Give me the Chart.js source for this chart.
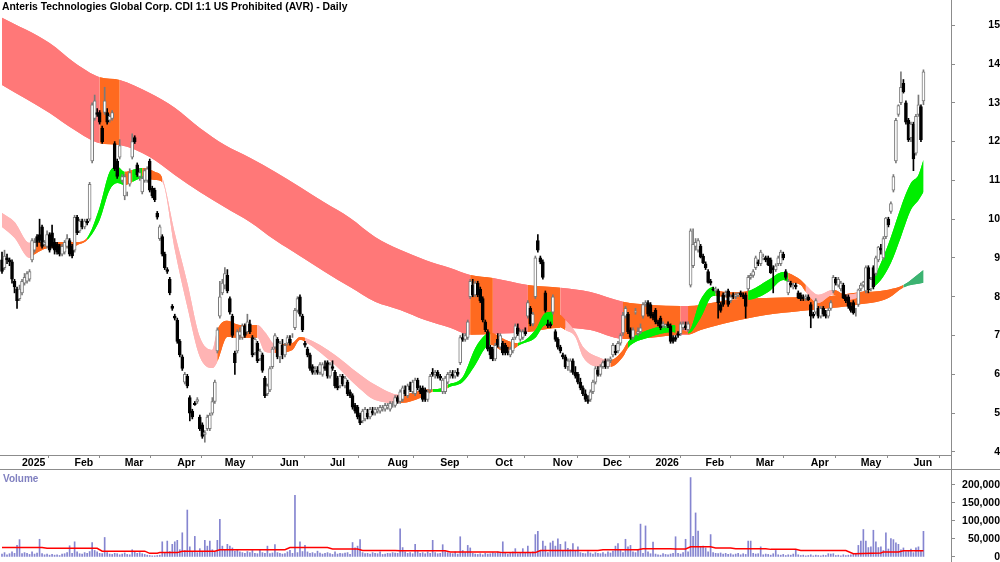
<!DOCTYPE html>
<html>
<head>
<meta charset="utf-8">
<script src="https://cdn.jsdelivr.net/npm/chart.js@4.4.1/dist/chart.umd.min.js"></script>
<style>
  body { margin: 0; background: #fff; }
  #wrap { position: relative; width: 1000px; height: 562px; overflow: hidden; font-family: "Liberation Sans", Arial, sans-serif; }
  #priceBox { position: absolute; left: 0; top: 0; width: 1000px; height: 470px; }
  #volBox { position: absolute; left: 0; top: 470px; width: 1000px; height: 92px; }
  .title { position: absolute; left: 2px; top: 1px; font-weight: bold; font-size: 10.4px; line-height: 12px; color: #000; white-space: nowrap; }
  .vlabel { position: absolute; left: 3px; top: 473px; font-weight: bold; font-size: 10px; line-height: 12px; color: #8080c0; }
  .sep { position: absolute; left: 0; top: 469px; width: 1000px; height: 1px; background: #8c8c8c; }
  .axisline { position: absolute; left: 951px; top: 0; width: 1px; height: 562px; background: #8c8c8c; }
</style>
</head>
<body>
<div id="wrap">
  <div id="priceBox"><canvas id="price" width="1000" height="470"></canvas></div>
  <div id="volBox"><canvas id="vol" width="1000" height="92"></canvas></div>
  <div class="sep"></div>
  <div class="axisline"></div>
  <div class="title">Anteris Technologies Global Corp. CDI 1:1 US Prohibited (AVR) - Daily</div>
  <div class="vlabel">Volume</div>
</div>
<script>
// daily candles [open, high, low, close]
const bars1 = [
  [8.95,9.15,8.6,8.65],[8.75,9.2,8.7,9.05],[9.0,9.1,8.85,8.95],[8.95,9.0,8.8,8.9],[8.9,8.95,8.35,8.45],
  [8.4,8.45,8.1,8.25],[8.2,8.25,7.7,7.9],[7.95,8.3,7.9,8.2],[8.1,8.45,8.05,8.4],[8.35,8.6,8.3,8.5],
  [8.4,8.65,8.35,8.6],[8.45,8.7,8.4,8.65],[8.95,9.5,8.9,9.45],[9.2,9.5,9.15,9.4],[9.55,9.6,9.3,9.4],
  [9.6,10.0,9.4,9.45],[9.8,9.85,9.25,9.3],[9.35,9.45,9.3,9.4],[9.3,9.7,9.25,9.6],[9.6,9.65,9.15,9.2],
  [9.65,9.85,9.25,9.3],[9.4,9.5,9.1,9.2],[9.35,9.4,9.1,9.15],[9.3,9.35,9.05,9.1],[9.1,9.35,9.05,9.3],
  [9.15,9.45,9.1,9.4],[9.3,9.6,9.25,9.5],[9.45,9.5,9.05,9.1],[9.3,9.35,9.0,9.05],[9.2,10.1,9.15,10.05],
  [10.05,10.1,9.6,9.65],[9.7,10.0,9.65,9.95],[9.95,10.0,9.75,9.8],[9.8,10.0,9.75,9.95],[9.95,10.0,9.85,9.9],
  [10.0,10.95,9.95,10.9],[11.5,13.0,11.45,12.95],[12.6,13.2,12.55,13.05],[12.75,12.85,12.65,12.7],[12.75,12.8,12.45,12.5],
  [12.35,12.4,11.95,12.0],[12.75,13.4,12.7,13.05],[12.75,12.85,12.45,12.5],[12.55,12.7,12.5,12.65],[12.6,12.8,12.55,12.75],
  [11.95,12.0,11.25,11.3],[11.5,11.55,11.05,11.1],[11.6,12.05,11.55,11.9],[11.0,11.15,10.95,11.1],[10.6,11.15,10.5,11.1]
];
const bars2 = [
  [10.65,10.7,10.6,10.65],[10.9,11.3,10.85,11.2],[11.6,12.2,11.55,12.0],[12.1,12.15,11.95,12.0],[11.4,11.45,11.1,11.15],
  [11.1,11.3,11.0,11.2],[10.7,11.1,10.65,11.05],[11.0,11.3,10.95,11.25],[11.0,11.35,10.95,11.3],[11.5,11.55,10.7,10.75],
  [10.8,10.85,10.55,10.6],[10.75,10.8,10.45,10.5],[10.15,10.2,10.0,10.05],[9.5,9.85,9.45,9.8],[9.55,9.6,9.05,9.1],
  [9.1,9.15,8.7,8.75],[8.7,8.75,8.6,8.65],[8.45,8.5,8.05,8.1],[7.75,7.8,7.65,7.7],[7.5,7.55,7.4,7.45],
  [7.4,7.45,6.8,6.85],[6.85,6.9,6.45,6.5],[6.45,6.5,6.1,6.15],[5.8,6.05,5.75,6.0],[5.95,6.0,5.65,5.7],
  [5.4,5.45,4.8,5.0],[5.05,5.1,4.85,4.9],[5.25,5.3,5.2,5.22],[5.3,5.4,5.25,5.35],[4.9,4.95,4.55,4.6],
  [4.7,4.75,4.35,4.4],[4.45,4.55,4.25,4.5],[4.6,4.95,4.55,4.9],[4.6,5.0,4.55,4.95],[5.0,5.4,4.95,5.3],
  [5.3,5.85,5.25,5.8],[6.6,7.2,6.55,7.15],[7.5,8.4,7.45,8.0],[8.1,8.45,8.05,8.35],[8.3,8.75,8.2,8.6],
  [8.55,8.7,8.1,8.15],[7.95,8.0,7.55,7.6],[7.5,7.55,6.95,7.0],[6.55,6.6,6.0,6.3],[6.6,7.15,6.55,7.1],
  [7.0,7.2,6.9,7.1],[6.95,7.3,6.9,7.25],[7.25,7.3,6.95,7.0],[7.1,7.55,7.05,7.35],[7.3,7.4,7.05,7.1]
];
const bars3 = [
  [6.95,7.0,6.45,6.5],[6.55,6.95,6.5,6.9],[6.8,6.85,6.3,6.35],[6.4,6.65,6.35,6.6],[6.5,6.55,6.05,6.1],
  [5.9,5.95,5.4,5.45],[5.5,5.75,5.45,5.7],[5.6,6.2,5.55,6.15],[6.2,6.7,6.15,6.65],[6.7,7.05,6.65,7.0],
  [6.9,6.95,6.4,6.45],[6.45,6.85,6.3,6.8],[6.75,6.9,6.4,6.5],[6.5,6.8,6.45,6.75],[6.8,7.0,6.75,6.95],
  [6.9,7.0,6.75,6.8],[7.0,7.05,6.95,7.0],[7.2,7.7,7.15,7.65],[7.65,8.0,7.6,7.95],[8.0,8.05,7.5,7.55],
  [7.5,7.55,7.1,7.15],[6.8,6.85,6.7,6.75],[6.65,6.7,6.45,6.5],[6.5,6.55,6.1,6.15],[6.2,6.25,6.0,6.05],
  [6.1,6.2,6.0,6.15],[6.1,6.2,6.0,6.05],[6.05,6.3,6.0,6.25],[6.0,6.3,5.95,6.25],[6.2,6.35,6.1,6.15],
  [6.3,6.35,5.9,5.95],[5.95,6.3,5.9,6.25],[6.2,6.35,6.1,6.15],[6.05,6.1,5.65,5.7],[5.9,5.95,5.6,5.65],
  [5.7,6.0,5.65,5.95],[5.95,6.0,5.7,5.75],[5.7,5.95,5.65,5.9],[5.8,5.85,5.45,5.5],[5.55,5.6,5.4,5.45],
  [5.45,5.5,5.1,5.15],[5.2,5.25,5.0,5.05],[5.15,5.2,4.85,4.9],[4.95,5.0,4.7,4.75],[4.8,5.1,4.75,5.05],
  [4.85,5.15,4.8,5.1],[5.0,5.1,4.85,4.9],[4.9,5.15,4.85,5.1],[5.05,5.15,4.95,5.0],[5.0,5.15,4.95,5.1]
];
const bars4 = [
  [5.05,5.15,5.0,5.1],[5.05,5.2,5.0,5.15],[5.1,5.2,5.05,5.15],[5.1,5.25,5.05,5.2],[5.15,5.25,5.1,5.2],
  [5.1,5.3,5.05,5.25],[5.2,5.3,5.15,5.2],[5.2,5.45,5.15,5.4],[5.4,5.45,5.25,5.3],[5.3,5.6,5.25,5.55],
  [5.35,5.7,5.3,5.65],[5.6,5.7,5.45,5.5],[5.45,5.75,5.4,5.7],[5.7,5.8,5.55,5.6],[5.55,5.85,5.5,5.8],
  [5.5,5.9,5.45,5.85],[5.85,5.9,5.6,5.65],[5.6,5.7,5.5,5.55],[5.65,5.7,5.3,5.35],[5.6,5.65,5.3,5.35],
  [5.35,5.6,5.3,5.55],[5.6,6.0,5.55,5.95],[6.05,6.15,5.95,6.0],[6.0,6.1,5.9,6.05],[6.05,6.1,5.9,5.95],
  [5.95,6.0,5.85,5.9],[5.55,5.9,5.5,5.85],[5.55,5.95,5.5,5.9],[5.8,6.05,5.75,6.0],[6.0,6.1,5.9,6.05],
  [6.0,6.1,5.9,5.95],[5.95,6.1,5.9,6.05],[6.05,6.15,5.95,6.0],[6.3,7.0,6.25,6.95],[6.95,7.05,6.85,6.9],
  [6.9,7.05,6.85,7.0],[6.95,7.4,6.9,7.35],[8.0,8.45,7.95,8.4],[8.3,8.45,8.0,8.05],[8.05,8.4,8.0,8.35],
  [8.35,8.4,8.0,8.05],[8.2,8.25,7.85,7.9],[7.95,8.0,7.35,7.4],[7.35,7.4,7.1,7.15],[7.1,7.15,6.6,6.65],
  [6.7,6.75,6.4,6.5],[6.65,6.7,6.35,6.4],[6.4,6.8,6.35,6.75],[6.9,7.05,6.7,6.75],[6.7,7.05,6.65,7.0]
];
const bars5 = [
  [6.8,6.85,6.5,6.55],[6.75,6.8,6.5,6.55],[6.6,6.7,6.5,6.55],[6.5,6.7,6.45,6.65],[6.6,6.95,6.55,6.9],
  [6.95,7.3,6.9,7.25],[7.2,7.3,7.0,7.05],[6.9,7.15,6.85,7.1],[6.95,7.15,6.9,7.1],[7.1,7.2,7.0,7.05],
  [7.5,7.9,7.45,7.85],[7.7,7.75,7.25,7.3],[7.3,7.6,7.25,7.55],[8.0,9.05,7.95,9.0],[9.45,9.6,9.15,9.2],
  [9.0,9.05,8.85,8.9],[8.9,8.95,8.45,8.5],[8.1,8.15,7.6,7.65],[7.3,7.4,7.2,7.25],[7.3,7.35,7.2,7.25],
  [7.6,8.05,7.55,8.0],[7.1,7.15,6.85,6.9],[6.9,6.95,6.65,6.7],[6.7,6.75,6.55,6.6],[6.5,6.55,6.4,6.45],
  [6.45,6.5,6.15,6.2],[6.2,6.4,6.1,6.35],[6.1,6.4,6.05,6.35],[6.35,6.4,6.0,6.05],[6.05,6.2,5.9,5.95],
  [6.0,6.05,5.75,5.8],[5.8,5.9,5.6,5.65],[5.65,5.7,5.45,5.5],[5.5,5.6,5.3,5.35],[5.35,5.45,5.25,5.3],
  [5.35,5.6,5.3,5.55],[5.55,5.85,5.5,5.8],[5.8,6.2,5.75,6.15],[6.1,6.2,5.95,6.0],[6.0,6.25,5.95,6.2],
  [6.2,6.35,6.15,6.3],[6.35,6.4,6.15,6.2],[6.2,6.4,6.15,6.35],[6.35,6.45,6.3,6.4],[6.5,6.8,6.45,6.75],
  [6.6,6.75,6.5,6.55],[6.6,6.85,6.55,6.8],[6.8,7.05,6.75,7.0],[7.07,7.6,7.0,7.53],[7.5,7.75,7.45,7.7]
];
const bars6 = [
  [7.55,7.6,7.05,7.1],[7.15,7.2,6.9,6.95],[6.95,7.2,6.9,7.15],[7.6,7.7,7.55,7.62],[7.05,7.2,7.0,7.1],
  [7.1,7.3,7.05,7.2],[7.5,7.85,7.45,7.8],[7.8,7.9,7.75,7.85],[7.85,7.9,7.5,7.55],[7.8,7.85,7.45,7.5],
  [7.55,7.6,7.4,7.45],[7.65,7.7,7.3,7.35],[7.35,7.4,7.25,7.3],[7.45,7.5,7.15,7.2],[7.25,7.35,7.2,7.3],
  [7.25,7.3,7.2,7.27],[7.3,7.35,7.2,7.25],[7.25,7.3,6.8,6.85],[6.95,7.0,6.8,6.85],[6.95,7.0,6.85,6.9],
  [7.05,7.1,6.95,7.0],[7.05,7.35,7.0,7.3],[7.2,7.35,7.15,7.3],[7.25,7.35,7.15,7.2],[7.15,7.35,7.1,7.3],
  [8.3,9.75,8.25,9.7],[8.8,9.75,8.75,9.35],[9.3,9.5,9.2,9.4],[9.2,9.5,9.15,9.45],[9.3,9.35,9.0,9.02],
  [9.05,9.1,8.85,8.87],[8.85,8.9,8.7,8.75],[8.65,8.7,8.35,8.37],[8.4,8.45,8.3,8.35],[8.2,8.25,8.15,8.18],
  [8.15,8.25,8.1,8.2],[8.15,8.2,7.45,7.85],[7.8,7.85,7.6,7.65],[8.05,8.1,7.75,7.8],[8.05,8.15,8.0,8.1],
  [8.15,8.2,7.75,7.8],[7.9,8.05,7.85,8.0],[8.05,8.1,7.95,8.0],[8.0,8.1,7.95,8.05],[8.05,8.1,8.0,8.08],
  [8.1,8.15,8.0,8.05],[8.05,8.1,7.95,8.0],[8.05,8.1,7.45,7.75],[8.2,8.55,8.15,8.5],[8.5,8.6,8.45,8.55]
];
const bars7 = [
  [8.55,8.7,8.5,8.65],[8.75,9.05,8.7,9.0],[8.9,8.95,8.8,8.85],[8.85,9.2,8.8,9.15],[9.0,9.1,8.95,9.02],
  [9.0,9.05,8.9,8.95],[9.0,9.05,8.8,8.82],[8.95,9.0,8.6,8.62],[8.75,8.8,8.1,8.7],[8.7,8.85,8.65,8.8],
  [8.85,9.05,8.8,9.0],[8.85,9.2,8.8,9.15],[9.1,9.15,8.95,9.0],[8.65,8.7,8.45,8.5],[8.1,8.45,8.05,8.4],
  [8.35,8.4,8.25,8.3],[8.25,8.35,8.2,8.3],[8.3,8.35,8.2,8.25],[8.1,8.15,7.95,7.97],[8.05,8.1,7.9,7.95],
  [8.0,8.05,7.9,7.95],[7.95,8.05,7.9,8.0],[8.0,8.05,7.9,7.92],[7.8,7.85,7.2,7.5],[7.55,7.6,7.45,7.5],
  [7.6,7.95,7.55,7.9],[7.7,7.75,7.45,7.5],[7.5,7.75,7.45,7.7],[7.7,7.75,7.5,7.55],[7.55,7.65,7.45,7.5],
  [7.5,7.7,7.45,7.65],[7.7,7.9,7.65,7.85],[8.15,8.55,8.1,8.5],[8.45,8.5,8.3,8.35],[8.3,8.5,8.25,8.45],
  [8.2,8.4,8.15,8.35],[8.3,8.35,7.95,7.97],[8.0,8.05,7.85,7.9],[8.0,8.05,7.7,7.75],[7.75,7.85,7.6,7.65],
  [7.85,7.9,7.55,7.58],[7.6,7.7,7.5,7.6],[7.8,8.2,7.75,8.18],[8.2,8.35,8.15,8.3],[8.3,8.4,8.25,8.38],
  [8.15,8.8,8.1,8.75],[8.75,8.8,8.1,8.18],[8.2,8.5,8.15,8.45],[8.75,8.8,8.2,8.25],[8.6,9.05,8.55,9.0]
];
const bars8 = [
  [8.95,9.3,8.9,9.28],[9.25,9.35,9.1,9.2],[9.0,9.55,8.95,9.5],[9.55,10.05,9.5,10.03],[10.0,10.05,9.8,9.85],
  [10.2,10.45,10.15,10.4],[10.75,11.15,10.7,11.1],[11.5,12.6,11.45,12.55],[12.7,12.95,12.65,12.93],[13.0,13.8,12.95,13.4],
  [13.5,13.6,13.25,13.28],[13.0,13.05,12.45,12.5],[12.55,12.6,12.0,12.05],[12.1,12.5,12.0,12.45],[12.45,12.5,11.25,11.55],
  [11.7,12.7,11.65,12.65],[12.7,13.2,12.65,12.95],[12.9,12.95,12.0,12.05],[13.05,13.85,12.95,13.8]
];

// daily volume, thousands of shares
const vol1 = [8,12,6,9,14,10,32,48,9,12, 10,7,14,8,11,49,9,6,8,5, 7,5,6,4,8,9,12,31,10,42, 14,9,8,12,10,15,40,18,14,10, 9,54,12,8,7,10,9,6,8,11];
const vol2 = [7,6,20,14,10,12,9,7,5,4, 3,3,4,5,42,12,44,15,35,42, 46,20,67,18,130,28,15,57,12,23, 16,46,30,44,20,14,46,104,30,18, 35,30,25,16,20,14,12,10,15,12];
const vol3 = [18,10,9,18,12,10,30,9,11,34, 12,10,8,9,14,18,10,171,12,42, 15,32,14,10,12,9,16,11,8,10, 12,9,7,14,8,10,9,11,12,7, 40,25,30,48,12,9,10,8,12,10];
const vol4 = [9,14,7,8,10,9,12,11,10,78, 26,14,10,12,9,35,15,10,12,9, 14,10,46,12,9,10,34,15,12,10, 9,14,8,56,18,12,32,25,10,8, 7,9,6,10,8,9,12,10,14,12];
const vol5 = [42,10,8,12,14,23,9,12,23,10, 30,12,14,62,71,18,44,30,12,39, 44,30,50,35,18,42,24,20,37,18, 28,12,10,9,15,11,8,12,10,9, 12,8,14,11,16,30,37,20,12,49];
const vol6 = [28,32,14,12,18,91,10,86,14,9, 41,8,6,5,9,7,6,8,10,56, 10,8,12,49,14,220,57,122,72,28, 30,25,14,62,12,10,9,11,8,10, 7,9,6,8,10,6,9,7,44,44];
const vol7 = [10,8,9,28,6,8,7,5,9,18, 6,5,7,4,6,5,8,20,6,4, 5,3,4,6,3,5,4,3,5,4, 9,8,9,4,5,3,6,4,5,6, 8,10,32,44,76,44,26,28,74,42];
const vol8 = [26,28,18,67,22,51,48,39,35,20, 25,15,18,22,12,25,28,18,71];

// volume average line (red), bar index -> thousands
const volAvgAt = [0,16,18,38,40,57,59,62,63,70,72,85,87,113,115,130,132,142,144,157,159,177,179,198,200,213,215,238,240,254,256,267,269,273,275,283,285,291,293,305,307,317,319,337,340,351,352,358,360,368];
const volAvgK  = [26,26,24,24,16,16,10,10,12,12,16,16,20,20,26,26,22,22,18,18,17,17,14,14,12,12,18,18,20,20,23,23,22,22,28,28,25,25,23,23,21,21,18,18,9,11,14,14,17,17];

// short-term ribbon: bar index, upper and lower edge, colour state per segment
const shortAt = [0,5,11,12,19,28,30,34,39,43,46,49,52,56,61,64,69,74,79,84,86,90,95,102,105,109,116,119,121,133,142,149,159,169,172,176,178,184,189,193,195,201,205,206,213,217,220,223,225,229,232,239,243,248,250,258,268,269,274,279,284,285,291,298,306,312,314,319,321,326,332,337,342,346,351,355,359,363,366,368];
const shortHi = [10.16,9.93,9.39,9.41,9.41,9.41,9.41,9.52,10.31,11.22,11.35,11.22,11.27,11.32,11.22,11.06,9.64,8.36,6.96,6.63,7.14,7.38,7.27,7.27,7.09,6.78,6.81,6.96,6.94,6.50,6.04,5.73,5.47,5.60,5.62,5.65,5.73,5.93,6.68,7.02,7.07,6.89,6.81,6.81,7.14,7.58,7.61,7.53,7.40,7.09,6.71,6.42,6.37,6.63,6.84,7.14,7.27,7.25,7.09,7.92,8.25,8.18,8.12,8.15,8.43,8.64,8.61,8.43,8.30,8.05,8.18,8.05,8.10,8.23,8.87,9.54,10.31,10.93,11.14,11.53];
const shortLo = [9.80,9.52,9.00,9.05,9.26,9.28,9.33,9.46,9.98,10.75,10.93,10.88,10.96,11.06,11.01,10.96,9.21,7.74,6.45,6.16,6.32,6.96,6.94,6.94,6.58,6.55,6.63,6.89,6.84,6.24,5.68,5.34,5.26,5.44,5.55,5.55,5.65,5.80,6.24,6.68,6.76,6.58,6.68,6.73,6.94,7.27,7.27,7.22,7.14,6.96,6.45,6.19,6.19,6.45,6.68,6.94,7.09,7.07,7.05,7.45,8.02,8.02,7.97,7.92,8.12,8.43,8.38,8.30,8.12,7.84,8.05,7.92,7.99,8.15,8.43,8.87,9.54,10.24,10.49,10.70];
const shortState = "PPPOOOOGGGGOGOOPPPPPOOOPPOOOPPPPOOGOGGGGOOOGGGOOPPPPOOGGGOGGGOOGGGOOPPOPOGGGGGGG";

// long-term ribbon
const longAt = [0,19,29,39,47,59,69,79,89,99,109,119,129,139,149,159,169,179,187,196,210,223,235,248,259,271,274,279,291,305,319,331,341,354,360,368];
const longHi = [15.19,14.54,14.03,13.66,13.59,13.25,12.87,12.35,11.91,11.58,11.22,10.83,10.42,10.03,9.54,9.21,8.95,8.74,8.56,8.48,8.30,8.23,8.12,7.87,7.79,7.76,7.76,7.79,7.92,7.97,7.99,8.02,8.10,8.18,8.30,8.69];
const longLo = [13.46,12.74,12.30,11.96,11.91,11.60,11.14,10.70,10.31,9.93,9.46,9.05,8.64,8.25,7.87,7.66,7.40,7.20,7.02,7.04,7.09,7.20,7.14,6.91,6.94,7.02,7.02,7.14,7.35,7.53,7.63,7.71,7.79,7.97,8.24,8.36];
const longState = "SSSOSSSSSSSSSSSSSSOSOSSOOSOOOOOOOODD";

const priceTicks = [4,5,6,7,8,9,10,11,12,13,14,15];
const volTicks = [0,50000,100000,150000,200000];

const MONTHS = ["Jan","Feb","Mar","Apr","May","Jun","Jul","Aug","Sep","Oct","Nov","Dec"];
const HOLIDAYS = ["2024-12-25","2024-12-26","2025-01-01","2025-01-27","2025-04-18","2025-04-21","2025-04-25","2025-06-09","2025-12-25","2025-12-26","2026-01-01","2026-01-26","2026-04-03","2026-04-06"];

const COLORS = { P: "#ffb4b4", O: "#ff6a1f", G: "#00ee00", S: "#ff7878", D: "#3cb371" };
const FONT = { family: "'Liberation Sans', Arial, sans-serif", size: 10.5, weight: "bold", lineHeight: 1 };

const bars = [].concat(bars1, bars2, bars3, bars4, bars5, bars6, bars7, bars8);
const volK = [].concat(vol1, vol2, vol3, vol4, vol5, vol6, vol7, vol8);

function tradingDays(startIso, count) {
  const out = [];
  let t = Date.parse(startIso + "T00:00:00Z");
  while (out.length < count) {
    const d = new Date(t);
    const wd = d.getUTCDay();
    if (wd !== 0 && wd !== 6 && !HOLIDAYS.includes(d.toISOString().slice(0, 10))) out.push(d);
    t += 86400000;
  }
  return out;
}

const days = tradingDays("2024-12-18", bars.length);
const monthStarts = [];
const monthLabels = [];
for (let i = 1; i < days.length; i++) {
  const m = days[i].getUTCMonth();
  if (m !== days[i - 1].getUTCMonth()) {
    monthStarts.push(i);
    monthLabels.push(m === 0 ? String(days[i].getUTCFullYear()) : MONTHS[m]);
  }
}

const X_MIN = -0.8, X_MAX = 379.0;

function ribbon(at, hi, lo, state, order) {
  const cols = state.split("").map(k => COLORS[k]);
  const common = { type: "line", borderWidth: 0, borderColor: "transparent", pointRadius: 0, cubicInterpolationMode: "monotone", order };
  return [
    Object.assign({}, common, {
      data: at.map((x, k) => ({ x, y: hi[k] })),
      fill: "+1",
      backgroundColor: cols[0],
      segment: { backgroundColor: c => cols[c.p0DataIndex] }
    }),
    Object.assign({}, common, { data: at.map((x, k) => ({ x, y: lo[k] })), fill: false })
  ];
}

function noPad(ax) {
  ax.paddingTop = 0; ax.paddingBottom = 0; ax.paddingLeft = 0; ax.paddingRight = 0;
}

const isUp = b => b[3] >= b[0];

new Chart(document.getElementById("price"), {
  type: "bar",
  data: {
    datasets: [
      {
        type: "bar",
        data: bars.map((b, i) => ({ x: i, y: [b[2], b[1]] })),
        backgroundColor: bars.map(b => isUp(b) ? "#7a7a7a" : "#000"),
        barThickness: 1, grouped: false, order: 2
      },
      {
        type: "bar",
        data: bars.map((b, i) => ({ x: i, y: [b[0], b[3]] })),
        backgroundColor: bars.map(b => isUp(b) ? "#fff" : "#000"),
        borderColor: bars.map(b => isUp(b) ? "#7a7a7a" : "#000"),
        borderWidth: 1, borderSkipped: false,
        barThickness: 3, grouped: false, order: 1
      },
      // each ribbon is laid twice so the seams between colour segments close up
      ...ribbon(shortAt, shortHi, shortLo, shortState, 5),
      ...ribbon(shortAt, shortHi, shortLo, shortState, 6),
      ...ribbon(longAt, longHi, longLo, longState, 7),
      ...ribbon(longAt, longHi, longLo, longState, 8)
    ]
  },
  options: {
    responsive: false,
    devicePixelRatio: 1,
    animation: false,
    events: [],
    layout: { autoPadding: false, padding: 0 },
    plugins: {
      legend: { display: false },
      tooltip: { enabled: false },
      filler: { drawTime: "beforeDatasetsDraw" }
    },
    scales: {
      x: {
        type: "linear", min: X_MIN, max: X_MAX, offset: false,
        afterBuildTicks: ax => { ax.ticks = monthStarts.map(v => ({ value: v })); },
        afterFit: ax => { ax.height = 15; noPad(ax); },
        ticks: {
          callback: (v, i) => monthLabels[i],
          font: FONT, color: "#000", align: "start", padding: 0,
          autoSkip: false, maxRotation: 0, minRotation: 0
        },
        grid: { drawOnChartArea: false, tickLength: 3, color: "#8c8c8c" },
        border: { color: "#8c8c8c" }
      },
      y: {
        position: "right", min: 3.92, max: 15.65,
        afterBuildTicks: ax => { ax.ticks = priceTicks.map(v => ({ value: v })); },
        afterFit: ax => { ax.width = 49; noPad(ax); },
        ticks: { callback: v => String(v), font: FONT, color: "#000", padding: 30, crossAlign: "far" },
        grid: { drawOnChartArea: false, tickLength: 4, color: "#8c8c8c" },
        border: { color: "#8c8c8c" }
      }
    }
  }
});

new Chart(document.getElementById("vol"), {
  type: "bar",
  data: {
    datasets: [
      {
        type: "bar",
        data: volK.map((v, i) => ({ x: i, y: v * 1000 })),
        backgroundColor: "#8585d0",
        barThickness: 1, grouped: false, order: 2
      },
      {
        type: "line",
        data: volAvgAt.map((x, k) => ({ x, y: volAvgK[k] * 1000 })),
        borderColor: "#ff0000", borderWidth: 1.5, pointRadius: 0, fill: false, order: 1
      }
    ]
  },
  options: {
    responsive: false,
    devicePixelRatio: 1,
    animation: false,
    events: [],
    layout: { autoPadding: false, padding: 0 },
    plugins: { legend: { display: false }, tooltip: { enabled: false } },
    scales: {
      x: { type: "linear", min: X_MIN, max: X_MAX, offset: false, display: false },
      y: {
        position: "right", min: -14000, max: 241000,
        afterBuildTicks: ax => { ax.ticks = volTicks.map(v => ({ value: v })); },
        afterFit: ax => { ax.width = 49; noPad(ax); },
        ticks: { callback: v => v.toLocaleString("en-US"), font: FONT, color: "#000", padding: 4, crossAlign: "far" },
        grid: { drawOnChartArea: false, tickLength: 4, color: "#8c8c8c" },
        border: { color: "#8c8c8c" }
      }
    }
  }
});
</script>
</body>
</html>
